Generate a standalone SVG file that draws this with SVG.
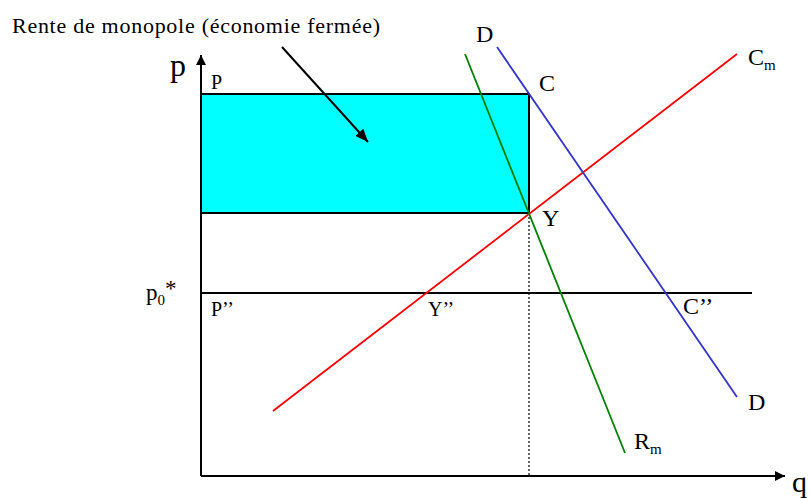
<svg xmlns="http://www.w3.org/2000/svg" width="810" height="498" viewBox="0 0 810 498">
<defs>
<marker id="ah" viewBox="0 0 10 10" refX="10" refY="5" markerWidth="10" markerHeight="10" markerUnits="userSpaceOnUse" orient="auto">
<path d="M0,0 L10,5 L0,10 z" fill="#000"/>
</marker>
<marker id="ah2" viewBox="0 0 12 10" refX="12" refY="5" markerWidth="13" markerHeight="11" markerUnits="userSpaceOnUse" orient="auto">
<path d="M0,0 L12,5 L0,10 z" fill="#000"/>
</marker>
</defs>
<style>
text{font-family:"Liberation Serif","Times New Roman",serif;fill:#000}
.s{font-size:20px}
.m{font-size:24px}
.ax{stroke:#000;stroke-width:2;fill:none}
.cv{fill:none;stroke-width:1.8}
</style>
<rect width="810" height="498" fill="#fff"/>
<g id="rent-area">
<rect x="201" y="94" width="328" height="119" fill="#00ffff" stroke="#000" stroke-width="2"/>
</g>
<g id="connectors">
<line class="ax" x1="201" y1="476" x2="201" y2="55" marker-end="url(#ah)"/>
<line class="ax" x1="201" y1="476" x2="785" y2="476" marker-end="url(#ah)"/>
<line class="ax" x1="201" y1="293" x2="752" y2="293"/>
<line x1="529" y1="213" x2="529" y2="476" stroke="#000" stroke-width="1.2" stroke-dasharray="2,2"/>
<line class="cv" x1="273" y1="411" x2="737" y2="54" stroke="#ff0000"/>
<line class="cv" x1="465" y1="54" x2="625" y2="453" stroke="#008000"/>
<line class="cv" x1="497" y1="47" x2="737" y2="397" stroke="#3333cc"/>
<line x1="282" y1="47" x2="368" y2="142" stroke="#000" stroke-width="2" marker-end="url(#ah2)"/>
</g>
<g id="title"><text x="12" y="33" font-size="22" textLength="368" lengthAdjust="spacing">Rente de monopole (économie fermée)</text></g>
<g id="axis-p"><text x="170" y="76" font-size="32">p</text></g>
<g id="axis-q"><text x="792" y="492" font-size="30">q</text></g>
<g id="P"><text class="s" x="211" y="89">P</text></g>
<g id="C"><text class="m" x="539" y="91">C</text></g>
<g id="Y"><text class="m" x="542" y="226">Y</text></g>
<g id="D-top"><text class="m" x="476" y="42">D</text></g>
<g id="D-bottom"><text class="m" x="748" y="410">D</text></g>
<g id="Cm"><text class="m" x="748" y="65">C<tspan font-size="15" dy="5">m</tspan></text></g>
<g id="Rm"><text class="m" x="634" y="449">R<tspan font-size="15" dy="5">m</tspan></text></g>
<g id="p0"><text x="146" y="300" font-size="23">p<tspan font-size="15" dy="5">0</tspan><tspan dy="-9">*</tspan></text></g>
<g id="P2"><text class="s" x="211" y="316">P’’</text></g>
<g id="Y2"><text class="s" x="428" y="316">Y’’</text></g>
<g id="C2"><text class="m" x="683" y="314">C’’</text></g>
</svg>
